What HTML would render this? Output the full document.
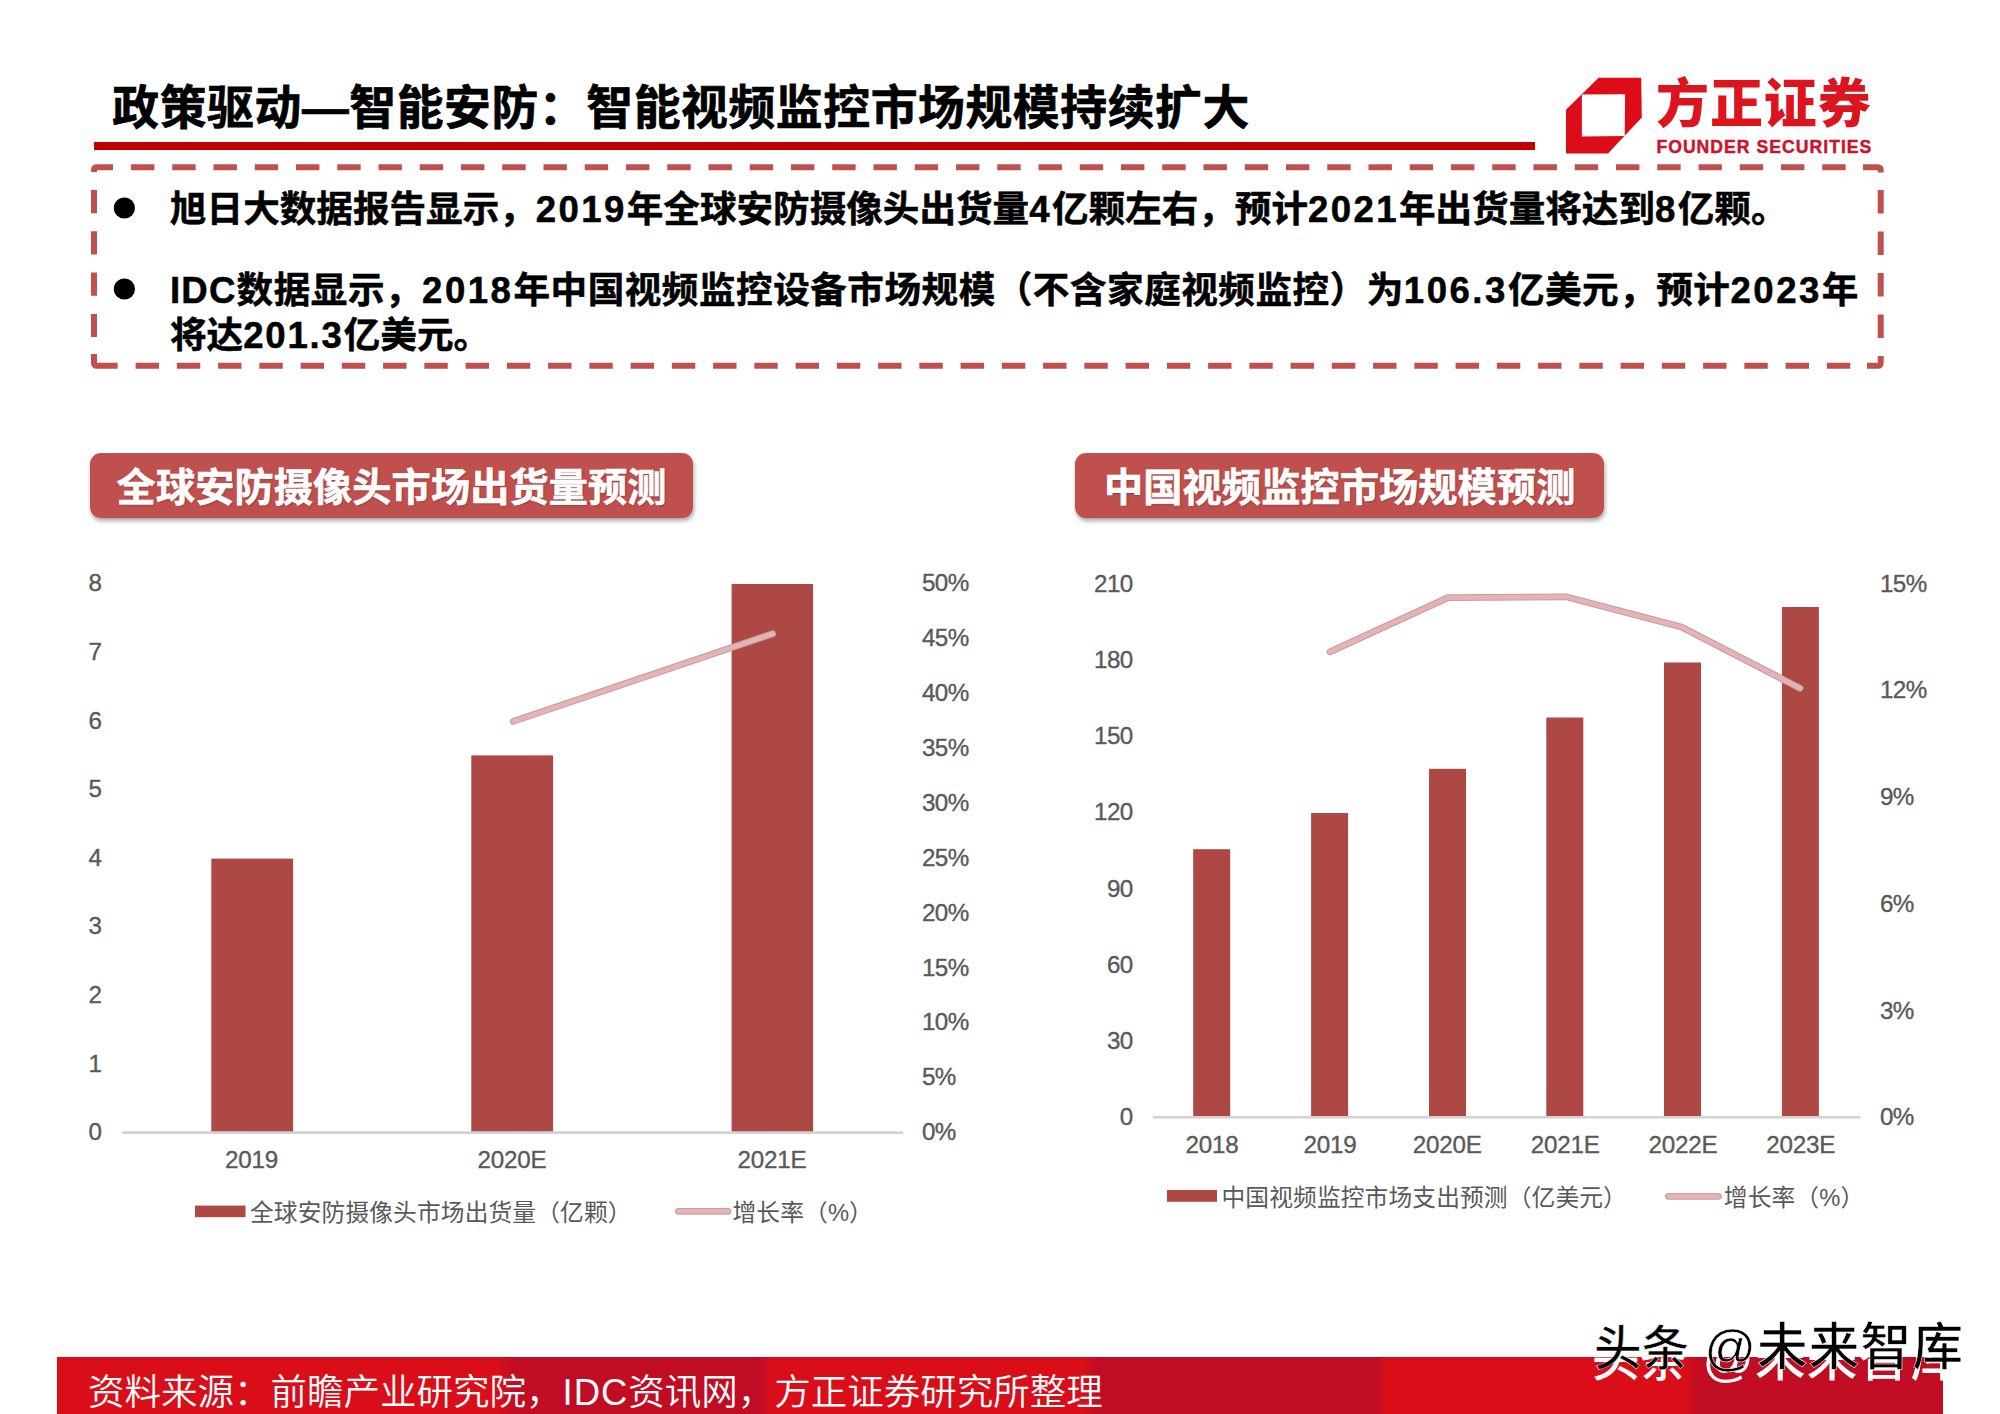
<!DOCTYPE html>
<html lang="zh-CN">
<head>
<meta charset="utf-8">
<title>政策驱动—智能安防：智能视频监控市场规模持续扩大</title>
<style>
*{box-sizing:border-box;margin:0;padding:0}
html,body{width:2000px;height:1414px;background:#fff;overflow:hidden}
#slide{position:absolute;left:0;top:0;width:2000px;height:1414px;overflow:hidden;background:#fff}
body{position:relative;font-family:"Liberation Sans","Noto Sans CJK SC",sans-serif;color:#000}
.abs{position:absolute;white-space:nowrap;line-height:1}
.cjk{font-family:"Liberation Sans","Noto Sans CJK SC",sans-serif}
#title{left:112.3px;top:73.4px;font-size:46.8px;letter-spacing:.6px;font-weight:700;-webkit-text-stroke:.7px #000;line-height:70px;height:70px}
#rule{left:94px;top:142px;width:1440.5px;height:8px;background:#c00000}
.bl{font-size:36.6px;font-weight:700;left:170px;-webkit-text-stroke:.5px #000;height:50px;line-height:50px}
.n{letter-spacing:2.4px}
#b2{letter-spacing:.52px}
#b2 .n{letter-spacing:2.5px}
#b2 .n:first-child{letter-spacing:1.2px}
#b3 .n{letter-spacing:1.8px}
.pill{position:absolute;top:453px;height:65px;border-radius:11px;background:#c0504d;box-shadow:1px 3px 4.5px rgba(0,0,0,.34)}
.pill span{position:absolute;left:0;top:2.1px;white-space:nowrap;color:#fff;font-weight:700;font-size:39.2px;line-height:65.5px;-webkit-text-stroke:.6px #fff;text-shadow:1px 1px 2px rgba(0,0,0,.25)}
#footer{left:57px;top:1357px;width:1886px;height:57px;background:linear-gradient(90deg,#da0e18 0,#da0e18 441px,#c10d23 456px,#c10d23 706px,#da0e18 713px,#da0e18 1027px,#c10d23 1039px,#c10d23 1322px,#da0e18 1328px,#da0e18 1628px,#c10d23 1640px,#c10d23 1886px)}
#src{left:88px;top:1364.5px;font-size:36.5px;font-weight:350;color:#fff;line-height:56px;height:56px}
#lg-cn{left:1656px;top:73.2px;font-size:53px;letter-spacing:.9px;font-weight:900;color:#dc141e;height:64px;line-height:64px}
#lg-en{left:1656.4px;top:136px;font-size:17.6px;font-weight:700;color:#c9142c;-webkit-text-stroke:.45px #c9142c;height:22px;line-height:22px;letter-spacing:1.03px}
.wm{font-size:50.6px;font-weight:500;height:60px;line-height:60px;letter-spacing:1.2px}
.wm b{font-weight:500;font-size:47.6px;letter-spacing:0}
#wm-w{left:1594px;top:1317.6px;color:#000;-webkit-text-stroke:.5px #fff;text-shadow:-2px 10.5px 0 #fff}
svg text{font-family:"Liberation Sans","Noto Sans CJK SC",sans-serif}
</style>
</head>
<body>
<div id="slide">
<div id="title" class="abs cjk">政策驱动—智能安防：智能视频监控市场规模持续扩大</div>
<div id="rule" class="abs"></div>

<svg class="abs" style="left:1550px;top:60px" width="110" height="100" viewBox="1550 60 110 100">
<polygon points="1598.6,77.7 1641.2,77.7 1641.8,117.6 1608,153.4 1566,153.4 1566,109.8" fill="#de0c19"/>
<polygon points="1581.9,94.6 1625.1,94.2 1624.7,135.9 1581.9,136.6" fill="#fff"/>
</svg>
<div id="lg-cn" class="abs cjk">方正证券</div>
<div id="lg-en" class="abs">FOUNDER SECURITIES</div>

<svg class="abs" style="left:0;top:0" width="2000" height="420" viewBox="0 0 2000 420">
<g fill="none" stroke="#c0504d" stroke-width="6">
<path d="M94 172 V170 Q94 167.2 97 167.2 H113"/>
<path d="M131 167.2 H1850" stroke-dasharray="23.4 17.85"/>
<path d="M1863 167.2 H1877.7 Q1880.7 167.2 1880.7 170.2 V172.5"/>
<path d="M1880.7 190 V340" stroke-dasharray="23.4 18.1"/>
<path d="M1880.7 356 V362.7 Q1880.7 365.7 1877.7 365.7 H1867"/>
<path d="M135.6 365.7 H1852" stroke-dasharray="23.4 17.85"/>
<path d="M117.6 365.7 H97 Q94 365.7 94 362.7 V354"/>
<path d="M94 190 V340" stroke-dasharray="23.2 18.1"/>
</g>
<circle cx="124.4" cy="208" r="10.6" fill="#000"/>
<circle cx="124.4" cy="289" r="10.6" fill="#000"/>
</svg>
<div class="abs bl cjk" id="b1" style="top:184.5px">旭日大数据报告显示，<span class="n">2019</span>年全球安防摄像头出货量<span class="n">4</span>亿颗左右，预计<span class="n">2021</span>年出货量将达到<span class="n">8</span>亿颗。</div>
<div class="abs bl cjk" id="b2" style="top:266px"><span class="n">IDC</span>数据显示，<span class="n">2018</span>年中国视频监控设备市场规模（不含家庭视频监控）为<span class="n">106.3</span>亿美元，预计<span class="n">2023</span>年</div>
<div class="abs bl cjk" id="b3" style="top:311px">将达<span class="n">201.3</span>亿美元。</div>

<div class="pill" style="left:90px;width:603px"><span id="p1" style="left:26.6px;letter-spacing:.1px">全球安防摄像头市场出货量预测</span></div>
<div class="pill" style="left:1075px;width:528.6px"><span id="p2" style="left:29px;letter-spacing:.1px">中国视频监控市场规模预测</span></div>

<svg class="abs" style="left:0;top:540px" width="2000" height="720" viewBox="0 540 2000 720">
<g fill="#ad4845">
<rect x="211.3" y="858.6" width="81.8" height="273.4"/>
<rect x="471.3" y="755.4" width="81.8" height="376.6"/>
<rect x="731.6" y="584" width="81.5" height="548"/>
<rect x="1193.2" y="849.2" width="37" height="267.3"/>
<rect x="1311.1" y="813" width="37" height="303.5"/>
<rect x="1429" y="768.8" width="37" height="347.7"/>
<rect x="1546.3" y="717.5" width="37" height="399"/>
<rect x="1664" y="662.5" width="37" height="454"/>
<rect x="1781.9" y="607" width="37" height="509.5"/>
</g>
<g stroke="#d2d2d2" stroke-width="2.6" stroke-linecap="round"><path d="M123 1132.6 H902"/><path d="M1154 1117.2 H1859.5"/></g>
<g fill="none" stroke-linecap="round" stroke-linejoin="round">
<g stroke="#bfa0a1" stroke-width="6.8"><path d="M513.2 721.4 L772.6 633.8"/><path d="M1330 651.8 L1448 597.6 L1566 596.8 L1681.4 627 L1800 688.2"/><path d="M678.5 1211.3 H728"/><path d="M1668.5 1196.3 H1718.5"/></g>
<g stroke="#e6b2b5" stroke-width="4.7"><path d="M513.2 721.4 L772.6 633.8"/><path d="M1330 651.8 L1448 597.6 L1566 596.8 L1681.4 627 L1800 688.2"/><path d="M678.5 1211.3 H728"/><path d="M1668.5 1196.3 H1718.5"/></g>
</g>
<g fill="#595959" stroke="#595959" stroke-width=".35" font-size="24.2px" letter-spacing="-.6">
<text x="95" y="1140.2" text-anchor="middle">0</text>
<text x="95" y="1071.6" text-anchor="middle">1</text>
<text x="95" y="1003" text-anchor="middle">2</text>
<text x="95" y="934.4" text-anchor="middle">3</text>
<text x="95" y="865.8" text-anchor="middle">4</text>
<text x="95" y="797.2" text-anchor="middle">5</text>
<text x="95" y="728.6" text-anchor="middle">6</text>
<text x="95" y="660" text-anchor="middle">7</text>
<text x="95" y="591.4" text-anchor="middle">8</text>
<text x="922" y="1140.2">0%</text>
<text x="922" y="1085.3">5%</text>
<text x="922" y="1030.4">10%</text>
<text x="922" y="975.5">15%</text>
<text x="922" y="920.6">20%</text>
<text x="922" y="865.7">25%</text>
<text x="922" y="810.8">30%</text>
<text x="922" y="755.9">35%</text>
<text x="922" y="701">40%</text>
<text x="922" y="646.1">45%</text>
<text x="922" y="591.2">50%</text>
<text x="251.5" y="1168.3" text-anchor="middle" letter-spacing="-.2">2019</text>
<text x="512" y="1168.3" text-anchor="middle" letter-spacing="-.2">2020E</text>
<text x="772" y="1168.3" text-anchor="middle" letter-spacing="-.2">2021E</text>
<text x="1132.6" y="1125.2" text-anchor="end">0</text>
<text x="1132.6" y="1049" text-anchor="end">30</text>
<text x="1132.6" y="972.8" text-anchor="end">60</text>
<text x="1132.6" y="896.6" text-anchor="end">90</text>
<text x="1132.6" y="820.4" text-anchor="end">120</text>
<text x="1132.6" y="744.2" text-anchor="end">150</text>
<text x="1132.6" y="668" text-anchor="end">180</text>
<text x="1132.6" y="591.8" text-anchor="end">210</text>
<text x="1880" y="1125.2">0%</text>
<text x="1880" y="1018.5">3%</text>
<text x="1880" y="911.8">6%</text>
<text x="1880" y="805.1">9%</text>
<text x="1880" y="698.4">12%</text>
<text x="1880" y="591.7">15%</text>
<text x="1212" y="1153" text-anchor="middle" letter-spacing="-.2">2018</text>
<text x="1330" y="1153" text-anchor="middle" letter-spacing="-.2">2019</text>
<text x="1447.3" y="1153" text-anchor="middle" letter-spacing="-.2">2020E</text>
<text x="1565.3" y="1153" text-anchor="middle" letter-spacing="-.2">2021E</text>
<text x="1683" y="1153" text-anchor="middle" letter-spacing="-.2">2022E</text>
<text x="1800.8" y="1153" text-anchor="middle" letter-spacing="-.2">2023E</text>
</g>
<g fill="#ad4845"><rect x="195" y="1205.6" width="50.5" height="11.6"/><rect x="1167" y="1190" width="50" height="11.8"/></g>
<g fill="#595959" font-size="23.75px" font-weight="400">
<text id="lg1" x="250" y="1220.6" letter-spacing=".1">全球安防摄像头市场出货量（亿颗）</text>
<text id="lg2" x="732.5" y="1220.6" letter-spacing=".1">增长率（%）</text>
<text id="lg3" x="1221.5" y="1205.6" letter-spacing=".1">中国视频监控市场支出预测（亿美元）</text>
<text id="lg4" x="1723.8" y="1205.6" letter-spacing=".1">增长率（%）</text>
</g>
</svg>

<div id="footer" class="abs"></div>
<div id="src" class="abs cjk">资料来源：前瞻产业研究院，<span style="letter-spacing:1px">IDC</span>资讯网，方正证券研究所整理</div>

<div id="wm-w" class="abs cjk wm"><b>头条</b> @未来智库</div>

</div>
</body>
</html>
